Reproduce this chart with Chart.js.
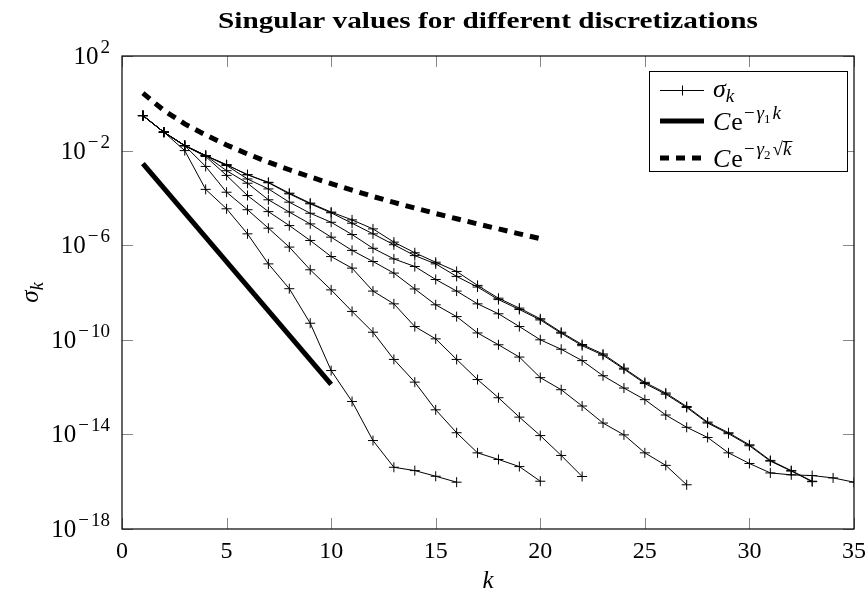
<!DOCTYPE html>
<html>
<head>
<meta charset="utf-8">
<script src="https://cdn.jsdelivr.net/npm/chart.js@4"></script>
<style>
  html, body { margin: 0; padding: 0; background: #fff; }
  canvas { display: block; }
</style>
</head>
<body>
<canvas id="chart" width="867" height="600"></canvas>
<script>
// axis setup
const xTickValues = [0, 5, 10, 15, 20, 25, 30, 35]
const yTickExponents = [2, -2, -6, -10, -14, -18]

// log10(sigma_k) for k = 1..N, one array per discretization
const sigmaA = [-0.52, -1.22, -2.00, -3.64, -4.46, -5.52, -6.79, -7.84, -9.30, -11.30, -12.61, -14.26, -15.39, -15.53, -15.77, -16.02]
const sigmaB = [-0.52, -1.22, -1.79, -2.67, -3.76, -4.50, -5.28, -6.08, -7.04, -7.89, -8.80, -9.68, -10.83, -11.79, -12.96, -13.93, -14.78, -15.06, -15.36, -15.98]
const sigmaC = [-0.52, -1.22, -1.79, -2.25, -3.05, -3.90, -4.58, -5.17, -5.80, -6.48, -6.97, -7.94, -8.48, -9.44, -9.96, -10.83, -11.68, -12.45, -13.27, -14.05, -14.89, -15.78]
const sigmaD = [-0.52, -1.22, -1.79, -2.21, -2.85, -3.38, -4.08, -4.60, -5.10, -5.66, -6.22, -6.69, -7.18, -7.85, -8.52, -9.02, -9.71, -10.21, -10.73, -11.60, -12.11, -12.80, -13.52, -14.02, -14.78, -15.31, -16.13]
const sigmaE = [-0.52, -1.22, -1.79, -2.21, -2.63, -3.20, -3.62, -4.18, -4.65, -5.03, -5.55, -6.13, -6.58, -6.90, -7.45, -7.94, -8.48, -8.90, -9.44, -10.00, -10.40, -10.88, -11.52, -12.04, -12.53, -13.18, -13.70, -14.13, -14.78, -15.23, -15.63, -15.71, -15.74, -15.84, -16.02]
const sigmaF = [-0.52, -1.22, -1.79, -2.21, -2.60, -3.02, -3.34, -3.80, -4.22, -4.60, -4.93, -5.31, -5.87, -6.32, -6.72, -7.11, -7.70, -8.24, -8.66, -9.11, -9.68, -10.20, -10.60, -11.20, -11.80, -12.25, -12.82, -13.48, -13.93, -14.44, -15.10, -15.53, -15.98]
const sigmaG = [-0.52, -1.22, -1.79, -2.21, -2.60, -3.02, -3.36, -3.83, -4.25, -4.63, -5.07, -5.52, -5.98, -6.44, -6.79, -7.32, -7.77, -8.30, -8.72, -9.16, -9.72, -10.25, -10.65, -11.24, -11.85, -12.30, -12.86, -13.52, -13.97, -14.48, -15.13, -15.55, -16.00]
const sigmaSets = [sigmaA, sigmaB, sigmaC, sigmaD, sigmaE, sigmaF, sigmaG]

// reference decay curves (log10)
const fitExpK = [1, 10]
const fitExpLog = [-2.55, -11.88]
const fitSqrtK = [1, 2, 3, 4, 5, 6, 7, 8, 9, 10, 11, 12, 13, 14, 15, 16, 17, 18, 19, 20]
const fitSqrtLog = [0.43, -0.30, -0.87, -1.34, -1.76, -2.14, -2.49, -2.81, -3.11, -3.40, -3.67, -3.94, -4.19, -4.43, -4.66, -4.88, -5.10, -5.31, -5.52, -5.72]

const SERIF = '"Liberation Serif", "DejaVu Serif", serif'

const toPoints = (ks, logs) => logs.map((v, i) => ({ x: ks ? ks[i] : i + 1, y: Math.pow(10, v) }))

const datasets = sigmaSets.map(s => ({
  data: toPoints(null, s),
  borderColor: '#000',
  borderWidth: 1,
  pointStyle: 'cross',
  pointRadius: 5,
  pointBorderWidth: 1,
  pointBorderColor: '#000',
  pointBackgroundColor: '#000',
  fill: false
}))

datasets.push({
  data: toPoints(fitExpK, fitExpLog),
  borderColor: '#000',
  borderWidth: 5,
  borderCapStyle: 'butt',
  pointRadius: 0,
  fill: false
})

datasets.push({
  data: toPoints(fitSqrtK, fitSqrtLog),
  borderColor: '#000',
  borderWidth: 5,
  borderDash: [9, 7],
  borderCapStyle: 'butt',
  pointRadius: 0,
  fill: false
})

// draw a row of text pieces (for sub/superscripts)
function drawRuns(ctx, runs, x, y) {
  ctx.textAlign = 'left'
  ctx.textBaseline = 'alphabetic'
  for (const r of runs) {
    ctx.font = r.f
    ctx.fillText(r.t, x, y + (r.dy || 0))
    const w = ctx.measureText(r.t).width
    if (r.over) ctx.fillRect(x, y + (r.dy || 0) - 14, w + 1, 1)
    x += w + (r.gap || 0)
  }
  return x
}

function runsWidth(ctx, runs) {
  let w = 0
  for (const r of runs) { ctx.font = r.f; w += ctx.measureText(r.t).width + (r.gap || 0) }
  return w
}

const axisDecor = {
  id: 'axisDecor',
  afterDraw(chart) {
    const { ctx, chartArea: a, scales: { x, y } } = chart
    ctx.save()

    // inward ticks on all four sides
    ctx.strokeStyle = '#888'
    ctx.lineWidth = 1
    ctx.beginPath()
    xTickValues.forEach(v => {
      const px = Math.round(x.getPixelForValue(v)) + 0.5
      ctx.moveTo(px, a.bottom); ctx.lineTo(px, a.bottom - 11)
      ctx.moveTo(px, a.top); ctx.lineTo(px, a.top + 11)
    })
    yTickExponents.forEach(e => {
      const py = Math.round(y.getPixelForValue(Math.pow(10, e))) + 0.5
      ctx.moveTo(a.left, py); ctx.lineTo(a.left + 11, py)
      ctx.moveTo(a.right, py); ctx.lineTo(a.right - 11, py)
    })
    ctx.stroke()

    // frame
    ctx.strokeStyle = '#000'
    ctx.lineWidth = 1.2
    ctx.strokeRect(a.left, a.top, a.right - a.left, a.bottom - a.top)

    ctx.fillStyle = '#000'

    // x tick labels
    ctx.font = '24px ' + SERIF
    ctx.textAlign = 'center'
    ctx.textBaseline = 'alphabetic'
    xTickValues.forEach(v => ctx.fillText(String(v), x.getPixelForValue(v), a.bottom + 29))

    // y tick labels 10^e
    yTickExponents.forEach(e => {
      const py = y.getPixelForValue(Math.pow(10, e))
      const expRuns = e < 0
        ? [{ t: '\u2212', f: '19px ' + SERIF, gap: 2 }, { t: String(-e), f: '19px ' + SERIF }]
        : [{ t: String(e), f: '19px ' + SERIF }]
      const ew = runsWidth(ctx, expRuns)
      const right = a.left - 12
      drawRuns(ctx, expRuns, right - ew, py - 3)
      ctx.font = '25px ' + SERIF
      ctx.textAlign = 'right'
      ctx.fillText('10', right - ew - 2, py + 8)
    })

    // title, stretched to the width of the original bold extended face
    ctx.font = 'bold 24px ' + SERIF
    ctx.textAlign = 'center'
    const title = 'Singular values for different discretizations'
    const tw = ctx.measureText(title).width
    ctx.save()
    ctx.translate((a.left + a.right) / 2, 28)
    ctx.scale(540 / tw, 1)
    ctx.fillText(title, 0, 0)
    ctx.restore()

    // x axis label
    ctx.font = 'italic 25px ' + SERIF
    ctx.textAlign = 'center'
    ctx.fillText('k', (a.left + a.right) / 2, 588)

    // y axis label
    const yRuns = [
      { t: '\u03c3', f: 'italic 25px ' + SERIF },
      { t: 'k', f: 'italic 18px ' + SERIF, dy: 5 }
    ]
    ctx.save()
    ctx.translate(33, (a.top + a.bottom) / 2)
    ctx.rotate(-Math.PI / 2)
    drawRuns(ctx, yRuns, -runsWidth(ctx, yRuns) / 2, 5)
    ctx.restore()

    // legend
    const lx = 649.5, ly = 71.5, lw = 198, lh = 100
    ctx.fillStyle = '#fff'
    ctx.fillRect(lx, ly, lw, lh)
    ctx.strokeStyle = '#000'
    ctx.lineWidth = 1
    ctx.strokeRect(lx, ly, lw, lh)
    ctx.fillStyle = '#000'

    // row 1: sigma_k
    ctx.beginPath()
    ctx.moveTo(660, 90.5); ctx.lineTo(704, 90.5)
    ctx.moveTo(677, 90.5); ctx.lineTo(687, 90.5)
    ctx.moveTo(682.5, 85.5); ctx.lineTo(682.5, 95.5)
    ctx.stroke()
    drawRuns(ctx, [
      { t: '\u03c3', f: 'italic 26px ' + SERIF },
      { t: 'k', f: 'italic 19px ' + SERIF, dy: 5 }
    ], 713, 97)

    // row 2: C e^{-gamma_1 k}
    ctx.lineWidth = 5
    ctx.lineCap = 'butt'
    ctx.beginPath()
    ctx.moveTo(660, 121); ctx.lineTo(704, 121)
    ctx.stroke()
    drawRuns(ctx, [
      { t: 'C', f: 'italic 26px ' + SERIF, gap: 1 },
      { t: 'e', f: '26px ' + SERIF, gap: 1 },
      { t: '\u2212', f: '19px ' + SERIF, dy: -11, gap: 2 },
      { t: '\u03b3', f: 'italic 19px ' + SERIF, dy: -11 },
      { t: '1', f: '13px ' + SERIF, dy: -7, gap: 2 },
      { t: 'k', f: 'italic 19px ' + SERIF, dy: -11 }
    ], 713, 130)

    // row 3: C e^{-gamma_2 sqrt(k)}
    ctx.setLineDash([9, 7])
    ctx.beginPath()
    ctx.moveTo(660, 158); ctx.lineTo(704, 158)
    ctx.stroke()
    ctx.setLineDash([])
    drawRuns(ctx, [
      { t: 'C', f: 'italic 26px ' + SERIF, gap: 1 },
      { t: 'e', f: '26px ' + SERIF, gap: 1 },
      { t: '\u2212', f: '19px ' + SERIF, dy: -12, gap: 2 },
      { t: '\u03b3', f: 'italic 19px ' + SERIF, dy: -12 },
      { t: '2', f: '13px ' + SERIF, dy: -8, gap: 2 },
      { t: '\u221a', f: '19px ' + SERIF, dy: -12 },
      { t: 'k', f: 'italic 19px ' + SERIF, dy: -12, over: true }
    ], 713, 167)

    ctx.restore()
  }
}

new Chart(document.getElementById('chart').getContext('2d'), {
  type: 'line',
  data: { datasets },
  options: {
    responsive: false,
    animation: false,
    layout: { padding: { left: 114, right: 13, top: 56, bottom: 63 } },
    plugins: {
      legend: { display: false },
      title: { display: false },
      tooltip: { enabled: false }
    },
    scales: {
      x: {
        type: 'linear', min: 0, max: 35,
        ticks: { display: false },
        grid: { display: false },
        border: { display: false }
      },
      y: {
        type: 'logarithmic', min: 1e-18, max: 1e2,
        ticks: { display: false },
        grid: { display: false },
        border: { display: false }
      }
    }
  },
  plugins: [axisDecor]
})
</script>
</body>
</html>
